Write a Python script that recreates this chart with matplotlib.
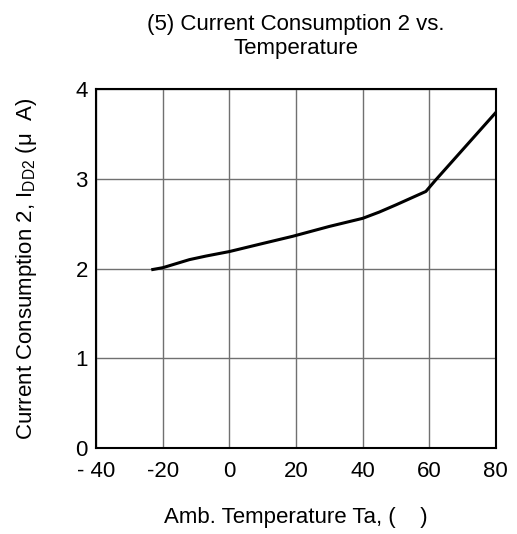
import matplotlib
matplotlib.use("Agg")
import matplotlib.pyplot as plt

plt.rcParams['font.family'] = ['Liberation Sans', 'DejaVu Sans']
plt.rcParams['mathtext.fontset'] = 'custom'
plt.rcParams['mathtext.rm'] = 'Liberation Sans'

# Data
temp = [-23, -20, -12, -7, 0, 10, 19, 30, 40, 45, 50, 59, 62, 80]
idd2 = [1.99, 2.01, 2.10, 2.14, 2.19, 2.28, 2.36, 2.47, 2.56, 2.63, 2.71, 2.86, 2.99, 3.74]

x_ticks = [-40, -20, 0, 20, 40, 60, 80]
x_tick_labels = ['- 40', '-20', '0', '20', '40', '60', '80']
y_ticks = [0, 1, 2, 3, 4]

fig = plt.figure(figsize=(5.17, 5.34), dpi=100)
ax = fig.add_axes([0.186, 0.161, 0.773, 0.672])

ax.plot(temp, idd2, color='black', linewidth=2.2)

ax.set_xlim(-40, 80)
ax.set_ylim(0, 4)
ax.set_xticks(x_ticks)
ax.set_xticklabels(x_tick_labels)
ax.set_yticks(y_ticks)
ax.tick_params(length=0, labelsize=16)
ax.tick_params(axis='x', pad=9)
ax.tick_params(axis='y', pad=6)
ax.grid(True, color='#707070', linewidth=1.0)
for s in ax.spines.values():
    s.set_linewidth(1.5)
    s.set_color('black')

ax.set_title("(5) Current Consumption 2 vs.\nTemperature", fontsize=16, pad=25, linespacing=1.2)
ax.set_xlabel("Amb. Temperature Ta, (    )", fontsize=16, labelpad=18)
ax.set_ylabel(r"Current Consumption 2, I$_{\mathregular{DD2}}$ (μ  A)", fontsize=16, labelpad=26)

fig.savefig("out.png", dpi=100)
